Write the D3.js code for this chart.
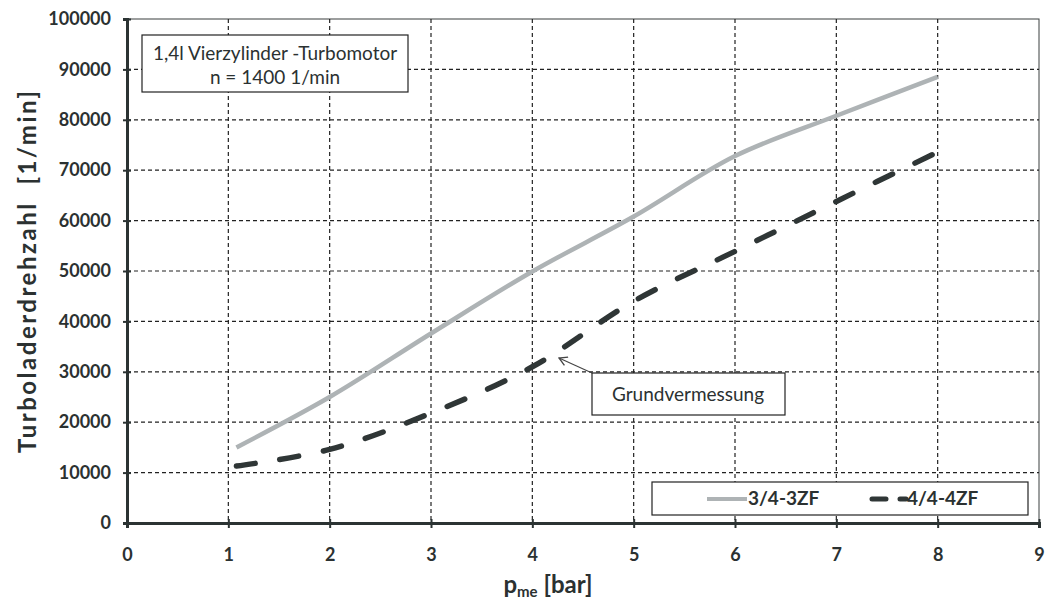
<!DOCTYPE html>
<html>
<head>
<meta charset="utf-8">
<script src="https://cdn.jsdelivr.net/npm/d3@7"></script>
<style>
  body { margin: 0; background: #fff; }
  text { font-family: Lato, "Open Sans", sans-serif; fill: #2b3131; }
</style>
</head>
<body>
<svg width="1047" height="604"></svg>
<script>
/* Turbolader-Drehzahl über p_me */

// data
var pme3 = [1.08, 2, 3, 4, 5, 6, 7, 8];
var rpm3 = [15000, 25000, 37600, 49900, 60800, 72800, 80800, 88500];
var pme4 = [1.08, 2, 3, 4, 5, 6, 7, 8];
var rpm4 = [11300, 14600, 21800, 31000, 44000, 53900, 63800, 73600];
var xTicks = [0, 1, 2, 3, 4, 5, 6, 7, 8, 9];
var yTicks = [0, 10000, 20000, 30000, 40000, 50000, 60000, 70000, 80000, 90000, 100000];
var seriesNames = ["3/4-3ZF", "4/4-4ZF"];

var svg = d3.select("svg"),
    margin = { top: 19, right: 8, bottom: 81, left: 127 },
    width = +svg.attr("width") - margin.left - margin.right,
    height = +svg.attr("height") - margin.top - margin.bottom;

var x = d3.scaleLinear().domain([0, 9]).range([0, width]);
var y = d3.scaleLinear().domain([0, 100000]).range([height, 0]);

var g = svg.append("g").attr("transform", "translate(" + margin.left + "," + margin.top + ")");

// plot border (top / right)
g.append("rect")
    .attr("width", width).attr("height", height)
    .attr("fill", "none").attr("stroke", "#3a3f3f").attr("stroke-width", 1);

// grid
g.append("g").selectAll("line")
    .data(xTicks.filter(function (d) { return d > 0 && d < 9; }))
    .enter().append("line")
    .attr("x1", function (d) { return x(d); }).attr("x2", function (d) { return x(d); })
    .attr("y1", 0).attr("y2", height)
    .attr("stroke", "#222").attr("stroke-width", 1.2).attr("stroke-dasharray", "4,3");

g.append("g").selectAll("line")
    .data(yTicks.filter(function (d) { return d > 0 && d < 100000; }))
    .enter().append("line")
    .attr("y1", function (d) { return y(d); }).attr("y2", function (d) { return y(d); })
    .attr("x1", 0).attr("x2", width)
    .attr("stroke", "#222").attr("stroke-width", 1.2).attr("stroke-dasharray", "4,3");

// axes
var yAxis = g.append("g")
    .call(d3.axisLeft(y).tickValues(yTicks).tickSize(4).tickPadding(12).tickFormat(d3.format("d")));
var xAxis = g.append("g")
    .attr("transform", "translate(0," + height + ")")
    .call(d3.axisBottom(x).tickValues(xTicks).tickSize(5).tickPadding(20).tickFormat(d3.format("d")));

[yAxis, xAxis].forEach(function (a) {
    a.select(".domain").attr("stroke", "#2b3333").attr("stroke-width", 3);
    a.selectAll(".tick line").attr("stroke", "#2b3333").attr("stroke-width", 2);
    a.selectAll(".tick text")
        .style("font-family", "Lato, sans-serif")
        .style("font-weight", "bold").style("font-size", "18px").attr("fill", "#2b3131");
});
yAxis.selectAll(".tick line").attr("x2", -4).attr("x1", 4);
xAxis.selectAll(".tick line").attr("y1", -4).attr("y2", 5);

// lines
var line = d3.line()
    .x(function (d) { return x(d[0]); })
    .y(function (d) { return y(d[1]); })
    .curve(d3.curveCatmullRom.alpha(0.5));

g.append("path")
    .datum(d3.zip(pme3, rpm3))
    .attr("d", line)
    .attr("fill", "none").attr("stroke", "#aeb3b5").attr("stroke-width", 4.5);

g.append("path")
    .datum(d3.zip(pme4, rpm4))
    .attr("d", line)
    .attr("fill", "none").attr("stroke", "#2f3636").attr("stroke-width", 5.5)
    .attr("stroke-linecap", "round").attr("stroke-dasharray", "19,25");

// info box
svg.append("rect")
    .attr("x", 142).attr("y", 35).attr("width", 266).attr("height", 57)
    .attr("fill", "#fff").attr("stroke", "#222").attr("stroke-width", 1.2);
svg.append("text").attr("x", 275).attr("y", 60).attr("text-anchor", "middle")
    .style("font-size", "19px").text("1,4l Vierzylinder -Turbomotor");
svg.append("text").attr("x", 275).attr("y", 84).attr("text-anchor", "middle")
    .style("font-size", "19px").text("n = 1400 1/min");

// annotation
svg.append("defs").append("marker")
    .attr("id", "arr").attr("viewBox", "0 0 10 10").attr("refX", 9).attr("refY", 5)
    .attr("markerWidth", 10).attr("markerHeight", 10).attr("orient", "auto")
    .attr("markerUnits", "userSpaceOnUse")
    .append("path").attr("d", "M1,0.5 L9,5 L1,9.5").attr("fill", "none").attr("stroke", "#444").attr("stroke-width", 1.3);
svg.append("line")
    .attr("x1", 592).attr("y1", 373).attr("x2", 559).attr("y2", 358)
    .attr("stroke", "#444").attr("stroke-width", 1.1).attr("marker-end", "url(#arr)");
svg.append("rect")
    .attr("x", 592).attr("y", 373).attr("width", 193).attr("height", 42)
    .attr("fill", "#fff").attr("stroke", "#222").attr("stroke-width", 1.2);
svg.append("text").attr("x", 688).attr("y", 401).attr("text-anchor", "middle")
    .style("font-size", "19px").text("Grundvermessung");

// legend
svg.append("rect")
    .attr("x", 652).attr("y", 482).attr("width", 376).attr("height", 33)
    .attr("fill", "#fff").attr("stroke", "#222").attr("stroke-width", 1.2);
svg.append("line").attr("x1", 707).attr("x2", 747).attr("y1", 499).attr("y2", 499)
    .attr("stroke", "#aeb3b5").attr("stroke-width", 4);
svg.append("text").attr("x", 748).attr("y", 505).style("font-size", "19px").style("font-weight", "bold")
    .text(seriesNames[0]);
svg.append("line").attr("x1", 872).attr("x2", 906).attr("y1", 499).attr("y2", 499)
    .attr("stroke", "#2f3636").attr("stroke-width", 5).attr("stroke-linecap", "round")
    .attr("stroke-dasharray", "14,14");
svg.append("text").attr("x", 907).attr("y", 505).style("font-size", "19px").style("font-weight", "bold")
    .text(seriesNames[1]);

// axis titles
svg.append("text")
    .attr("transform", "translate(36,272) rotate(-90)")
    .attr("text-anchor", "middle")
    .attr("textLength", 362).attr("lengthAdjust", "spacing")
    .style("font-size", "24px").style("font-weight", "bold")
    .text("Turboladerdrehzahl\u00a0\u00a0[1/min]");

var xt = svg.append("text").attr("x", 548).attr("y", 593).attr("text-anchor", "middle")
    .style("font-size", "24px").style("font-weight", "bold");
xt.append("tspan").text("p");
xt.append("tspan").attr("dy", 4).style("font-size", "15px").text("me");
xt.append("tspan").attr("dy", -4).text(" [bar]");
</script>
</body>
</html>
